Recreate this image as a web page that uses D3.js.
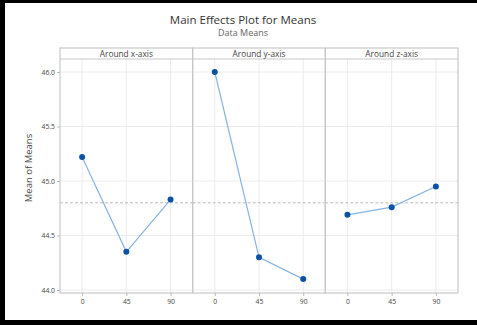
<!DOCTYPE html>
<html>
<head>
<meta charset="utf-8">
<script src="https://cdn.jsdelivr.net/npm/d3@7"></script>
<style>
  html, body { margin: 0; padding: 0; background: #fff; }
  svg { display: block; font-family: "Open Sans", "Noto Sans", sans-serif; }
</style>
</head>
<body>
<svg id="chart" width="477" height="325"></svg>
<script>
// Factor levels and the mean response at each level
const levels = ["0", "45", "90"];
const factors = ["Around x-axis", "Around y-axis", "Around z-axis"];
const xAxisMeans = [45.22, 44.35, 44.83];
const yAxisMeans = [46.00, 44.30, 44.10];
const zAxisMeans = [44.69, 44.76, 44.95];
const yTicks = [44.0, 44.5, 45.0, 45.5, 46.0];

const seriesByFactor = [xAxisMeans, yAxisMeans, zAxisMeans];
const grandMean = d3.mean(seriesByFactor.flat());

const svg = d3.select("#chart");
const W = 477, H = 325;

// Outer frame (dark on left, top and bottom)
svg.append("rect").attr("x", 0).attr("y", 0).attr("width", W).attr("height", H).attr("fill", "#000");
svg.append("rect").attr("x", 5).attr("y", 3).attr("width", W - 5).attr("height", H - 8).attr("fill", "#fff");

// Titles
svg.append("text").attr("x", 243).attr("y", 24).attr("text-anchor", "middle")
  .attr("font-size", 11.5).attr("fill", "#333").text("Main Effects Plot for Means");
svg.append("text").attr("x", 243).attr("y", 36).attr("text-anchor", "middle")
  .attr("font-size", 9).attr("fill", "#666").text("Data Means");

// Panel layout
const left = 60, right = 458, stripTop = 48, plotTop = 59, plotBottom = 293;
const panelW = (right - left) / factors.length;

const y = d3.scaleLinear().domain([44, 46]).range([290, 72]);

// Y axis title
svg.append("text")
  .attr("transform", `translate(32,168) rotate(-90)`)
  .attr("text-anchor", "middle").attr("font-size", 9.5).attr("fill", "#444")
  .text("Mean of Means");

// Y axis ticks and labels
const yAxis = d3.axisLeft(y).tickValues(yTicks).tickFormat(d3.format(".1f")).tickSize(3).tickPadding(2);
const gy = svg.append("g").attr("transform", `translate(${left},0)`).call(yAxis);
gy.select(".domain").remove();
gy.selectAll("line").attr("stroke", "#bbb");
gy.selectAll("text").attr("font-size", 6.8).attr("fill", "#444").attr("font-family", "Open Sans, sans-serif");

const line = d3.line();

factors.forEach((name, i) => {
  const x0 = left + i * panelW;
  const x = d3.scalePoint().domain(levels).range([x0, x0 + panelW]).padding(0.5);
  const g = svg.append("g");

  // Gridlines
  g.selectAll(".hg").data(yTicks).join("line")
    .attr("x1", x0).attr("x2", x0 + panelW)
    .attr("y1", d => y(d)).attr("y2", d => y(d))
    .attr("stroke", "#ececec").attr("stroke-width", 1);
  g.selectAll(".vg").data(levels).join("line")
    .attr("x1", d => x(d)).attr("x2", d => x(d))
    .attr("y1", plotTop).attr("y2", plotBottom)
    .attr("stroke", "#ececec").attr("stroke-width", 1);

  // Reference line at the grand mean
  g.append("line")
    .attr("x1", x0).attr("x2", x0 + panelW)
    .attr("y1", y(grandMean)).attr("y2", y(grandMean))
    .attr("stroke", "#aaa").attr("stroke-width", 0.8).attr("stroke-dasharray", "3,2");

  // Panel frame and strip
  g.append("rect").attr("x", x0).attr("y", stripTop).attr("width", panelW).attr("height", plotBottom - stripTop)
    .attr("fill", "none").attr("stroke", "#c8c8c8").attr("stroke-width", 1.2);
  g.append("line").attr("x1", x0).attr("x2", x0 + panelW).attr("y1", plotTop).attr("y2", plotTop)
    .attr("stroke", "#c8c8c8").attr("stroke-width", 1.2);
  g.append("text").attr("x", x0 + panelW / 2).attr("y", 56.8).attr("text-anchor", "middle")
    .attr("font-size", 8.3).attr("fill", "#444").text(name);

  // X axis ticks
  const xAxis = d3.axisBottom(x).tickSize(3).tickPadding(3);
  const gx = g.append("g").attr("transform", `translate(0,${plotBottom})`).call(xAxis);
  gx.select(".domain").remove();
  gx.selectAll("line").attr("stroke", "#bbb");
  gx.selectAll("text").attr("font-size", 6.8).attr("fill", "#444").attr("font-family", "Open Sans, sans-serif");

  // Means line and points
  const vals = seriesByFactor[i];
  g.append("path")
    .attr("d", line(levels.map((l, k) => [x(l), y(vals[k])])))
    .attr("fill", "none").attr("stroke", "#86b4e2").attr("stroke-width", 1.2);
  g.selectAll("circle").data(vals).join("circle")
    .attr("cx", (d, k) => x(levels[k])).attr("cy", d => y(d))
    .attr("r", 3).attr("fill", "#0b52a6");
});
</script>
</body>
</html>
